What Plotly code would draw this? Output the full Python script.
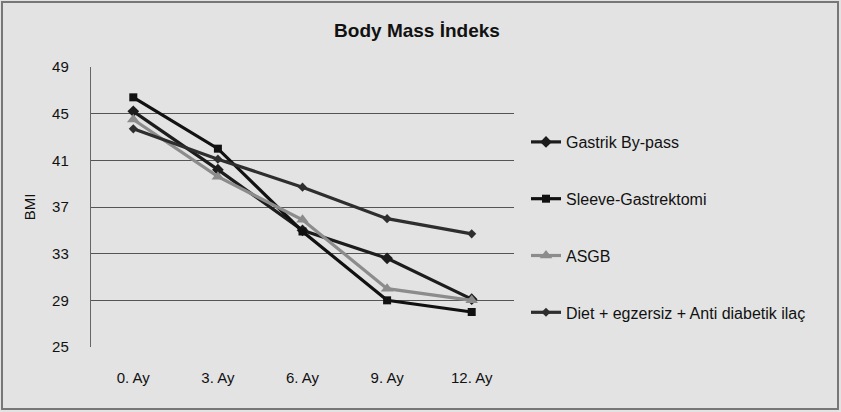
import plotly.graph_objects as go

categories = ["0. Ay", "3. Ay", "6. Ay", "9. Ay", "12. Ay"]
gastrik_bypass = [45.2, 40.2, 35.0, 32.6, 29.1]
sleeve_gastrektomi = [46.4, 42.0, 34.9, 29.0, 28.0]
asgb = [44.5, 39.6, 35.9, 30.0, 29.0]
diet = [43.7, 41.1, 38.7, 36.0, 34.7]
series_names = ["Gastrik By-pass", "Sleeve-Gastrektomi", "ASGB",
                "Diet + egzersiz + Anti diabetik ilaç"]
y_ticks = [25, 29, 33, 37, 41, 45, 49]

W, H = 841, 412
L, R, T, B = 91, 327, 67, 65
pw, ph = W - L - R, H - T - B

fig = go.Figure()
styles = [
    dict(color="#1c1c1c", symbol="diamond", size=9),
    dict(color="#111111", symbol="square", size=8),
    dict(color="#8c8c8c", symbol="triangle-up", size=11),
    dict(color="#2e2e2e", symbol="diamond", size=7),
]
data = [gastrik_bypass, sleeve_gastrektomi, asgb, diet]
for i, (name, vals, st) in enumerate(zip(series_names, data, styles)):
    fig.add_trace(go.Scatter(
        x=categories, y=vals, name=name, mode="lines+markers",
        line=dict(color=st["color"], width=3.2),
        marker=dict(symbol=st["symbol"], size=st["size"], color=st["color"]),
        legendgroup=f"g{i}",
    ))

bg = "#e3e3e3"
fig.update_layout(
    width=W, height=H,
    margin=dict(l=L, r=R, t=T, b=B),
    paper_bgcolor=bg, plot_bgcolor=bg,
    font=dict(family="Liberation Sans, Arial, sans-serif", size=15, color="#111"),
    title=dict(text="<b>Body Mass İndeks</b>", x=417 / W, xref="container",
               y=1 - 30 / H, yref="container", xanchor="center", yanchor="middle",
               font=dict(size=19, color="#111")),
    showlegend=True,
    legend=dict(x=(526 - L) / pw, xanchor="left", y=(H - B - 125) / ph,
                yanchor="top", bgcolor="rgba(0,0,0,0)", font=dict(size=16),
                tracegroupgap=33, itemwidth=30),
    xaxis=dict(type="category", range=[-0.5, 4.5], showgrid=False, zeroline=False,
               showline=False, ticks="", tickfont=dict(size=15), ticklabelstandoff=20),
    yaxis=dict(range=[25, 49], tickvals=y_ticks, showgrid=True, gridcolor="#555555",
               gridwidth=1.4, zeroline=False, showline=True, linecolor="#666666",
               linewidth=1.4, ticks="", tickfont=dict(size=15), ticklabelstandoff=18,
               title=dict(text="BMI", font=dict(size=15), standoff=12)),
)

# outer border
fig.add_shape(type="rect", xref="paper", yref="paper",
              x0=(2 - L) / pw, x1=(W - 3 - L) / pw,
              y0=(H - B - (H - 3)) / ph, y1=(H - B - 2) / ph,
              line=dict(color="#777777", width=2), layer="below")

fig.write_html("out.html", config={"displayModeBar": False},
               post_script="document.body.style.margin='0';document.body.style.overflow='hidden';")
